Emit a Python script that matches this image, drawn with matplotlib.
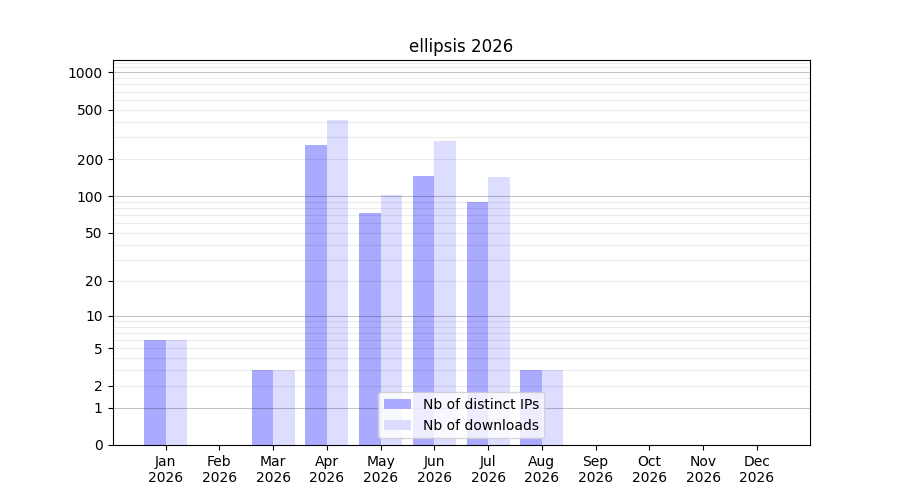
import numpy as np
import matplotlib
matplotlib.use("Agg")
import matplotlib.pyplot as plt

months = ["Jan", "Feb", "Mar", "Apr", "May", "Jun", "Jul", "Aug", "Sep", "Oct", "Nov", "Dec"]
year = "2026"
distinct_ips = [6, 0, 3, 260, 73, 145, 90, 3, 0, 0, 0, 0]
downloads = [6, 0, 3, 410, 102, 280, 142, 3, 0, 0, 0, 0]
ytick_vals = [0, 1, 2, 5, 10, 20, 50, 100, 200, 500, 1000]
title = "ellipsis 2026"


def fwd(y):
    return np.log10(1 + np.clip(y, 0, None))


def inv(y):
    return 10 ** y - 1


fig, ax = plt.subplots(figsize=(9, 5), dpi=100)
x = np.arange(len(months))
ax.bar(x - 0.4, distinct_ips, width=0.4, align="edge", color="#aaaaff", label="Nb of distinct IPs", zorder=1)
ax.bar(x, downloads, width=0.4, align="edge", color="#ddddff", label="Nb of downloads", zorder=1)

ax.set_yscale("function", functions=(fwd, inv))
ax.set_ylim(0, 1260)
ax.set_yticks(ytick_vals)
ax.set_yticklabels([str(v) for v in ytick_vals])
ax.yaxis.set_minor_locator(matplotlib.ticker.NullLocator())

minor_vals = [m * 10 ** k for k in range(0, 3) for m in range(2, 10)] + [1100, 1200]
for v in minor_vals:
    ax.axhline(v, color="black", alpha=0.08, linewidth=0.8, zorder=1.5)
for v in [1, 10, 100, 1000]:
    ax.axhline(v, color="black", alpha=0.23, linewidth=0.8, zorder=1.6)

ax.set_xticks(x)
ax.set_xticklabels([f"{m}\n{year}" for m in months])
ax.set_title(title)
ax.legend(loc="lower center")
fig.savefig("out.png")
